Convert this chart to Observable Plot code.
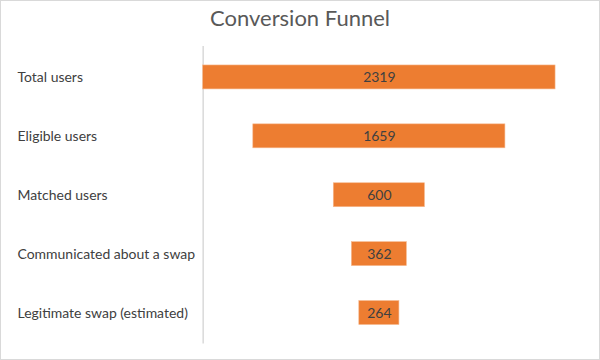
<!DOCTYPE html>
<html>
<head>
<meta charset="utf-8">
<script src="https://cdn.jsdelivr.net/npm/d3@7"></script>
<script src="https://cdn.jsdelivr.net/npm/@observablehq/plot@0.6"></script>
<style>
  html, body { margin: 0; padding: 0; background: #fff; }
  #wrap { position: relative; width: 600px; height: 360px; box-sizing: border-box; border: 1px solid #d9d9d9; overflow: hidden; font-family: Lato, "Open Sans", sans-serif; }
  #title { position: absolute; left: 0; top: 0; width: 598px; height: 39px; text-align: center; font-size: 22px; line-height: 33px; color: #595959; }
  #chart { position: absolute; left: -1px; top: 39px; }
</style>
</head>
<body>
<div id="wrap">
  <div id="title">Conversion Funnel</div>
  <div id="chart"></div>
</div>
<script>
const stages = ["Total users", "Eligible users", "Matched users", "Communicated about a swap", "Legitimate swap (estimated)"];
const users = [2319, 1659, 600, 362, 264];

const data = stages.map((s, i) => ({stage: s, value: users[i]}));
const maxV = d3.max(users);

const plot = Plot.plot({
  width: 600,
  height: 320,
  marginLeft: 203,
  marginRight: 44,
  marginTop: 6,
  marginBottom: 16,
  style: {fontFamily: "Lato, 'Open Sans', sans-serif", background: "transparent"},
  x: {domain: [-maxV / 2, maxV / 2], axis: null},
  y: {domain: stages, paddingInner: 0.6, paddingOuter: 0.3, label: null},
  marks: [
    Plot.ruleX([-maxV / 2], {stroke: "#d9d9d9", strokeWidth: 1.5}),
    Plot.barX(data, {
      y: "stage",
      x1: d => -d.value / 2,
      x2: d => d.value / 2,
      fill: "#ED7D31",
      stroke: "#f6b98f",
      strokeWidth: 0.6
    }),
    Plot.text(data, {
      y: "stage",
      x: 0,
      text: d => String(d.value),
      fill: "#404040",
      fontSize: 14
    }),
    Plot.axisY({
      tickSize: 0,
      tickPadding: 0,
      textAnchor: "start",
      dx: -186,
      fontSize: 14,
      fill: "#404040",
      label: null
    })
  ]
});
document.getElementById("chart").appendChild(plot);
</script>
</body>
</html>
